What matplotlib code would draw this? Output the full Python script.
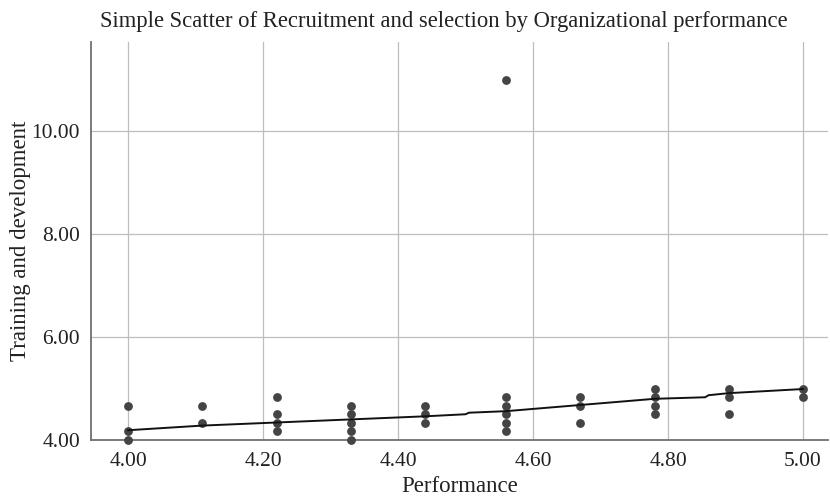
import matplotlib
matplotlib.use("Agg")
import matplotlib.pyplot as plt

# Scatter data (x = Performance, y = Training and development)
perf = [4.00, 4.00, 4.00,
        4.11, 4.11,
        4.22, 4.22, 4.22, 4.22,
        4.33, 4.33, 4.33, 4.33, 4.33,
        4.44, 4.44, 4.44,
        4.56, 4.56, 4.56, 4.56, 4.56, 4.56,
        4.67, 4.67, 4.67,
        4.78, 4.78, 4.78, 4.78,
        4.89, 4.89, 4.89,
        5.00, 5.00]
train = [4.67, 4.17, 4.00,
         4.67, 4.33,
         4.83, 4.50, 4.33, 4.17,
         4.67, 4.50, 4.33, 4.17, 4.00,
         4.67, 4.50, 4.33,
         11.00, 4.83, 4.67, 4.50, 4.33, 4.17,
         4.83, 4.67, 4.33,
         5.00, 4.83, 4.67, 4.50,
         5.00, 4.83, 4.50,
         5.00, 4.83]

# Fit line
fit_x = [4.00, 4.11, 4.22, 4.33, 4.44, 4.50, 4.505, 4.56, 4.67, 4.78, 4.855, 4.86, 4.89, 5.00]
fit_y = [4.19, 4.28, 4.34, 4.40, 4.46, 4.50, 4.53, 4.56, 4.68, 4.80, 4.83, 4.87, 4.91, 4.99]

xticks = [4.00, 4.20, 4.40, 4.60, 4.80, 5.00]
yticks = [4.00, 6.00, 8.00, 10.00]

plt.rcParams['font.family'] = ['Liberation Serif', 'DejaVu Serif']

fig = plt.figure(figsize=(8.3, 4.96), dpi=100)
ax = fig.add_axes([91/830, 56/496, (828-91)/830, (440-42)/496])

ax.set_xlim(3.945, 5.037)
ax.set_ylim(4.0, 11.73)
ax.set_xticks(xticks)
ax.set_yticks(yticks)
ax.set_xticklabels([f"{v:.2f}" for v in xticks])
ax.set_yticklabels([f"{v:.2f}" for v in yticks])
ax.tick_params(length=0, labelsize=15.5, colors='#222222')
ax.tick_params(axis='x', pad=9)
ax.tick_params(axis='y', pad=8)
ax.grid(True, color='#bdbdbd', linewidth=0.9)
ax.set_axisbelow(True)
for s in ['top', 'right']:
    ax.spines[s].set_visible(False)
for s in ['left', 'bottom']:
    ax.spines[s].set_color('#707070')
    ax.spines[s].set_linewidth(1.3)

ax.scatter(perf, train, s=40, color='#444444', zorder=3, clip_on=False, linewidths=0)
ax.plot(fit_x, fit_y, color='#111111', linewidth=1.4, zorder=4)

ax.set_xlabel("Performance", fontsize=16.5, labelpad=3, color='#222222')
ax.set_ylabel("Training and development", fontsize=16.5, labelpad=0, color='#222222')
fig.text(444/830, 1 - 21/496, "Simple Scatter of Recruitment and selection by Organizational performance",
         ha='center', va='center', fontsize=16.3, color='#222222')

fig.savefig("out.png", dpi=100)
